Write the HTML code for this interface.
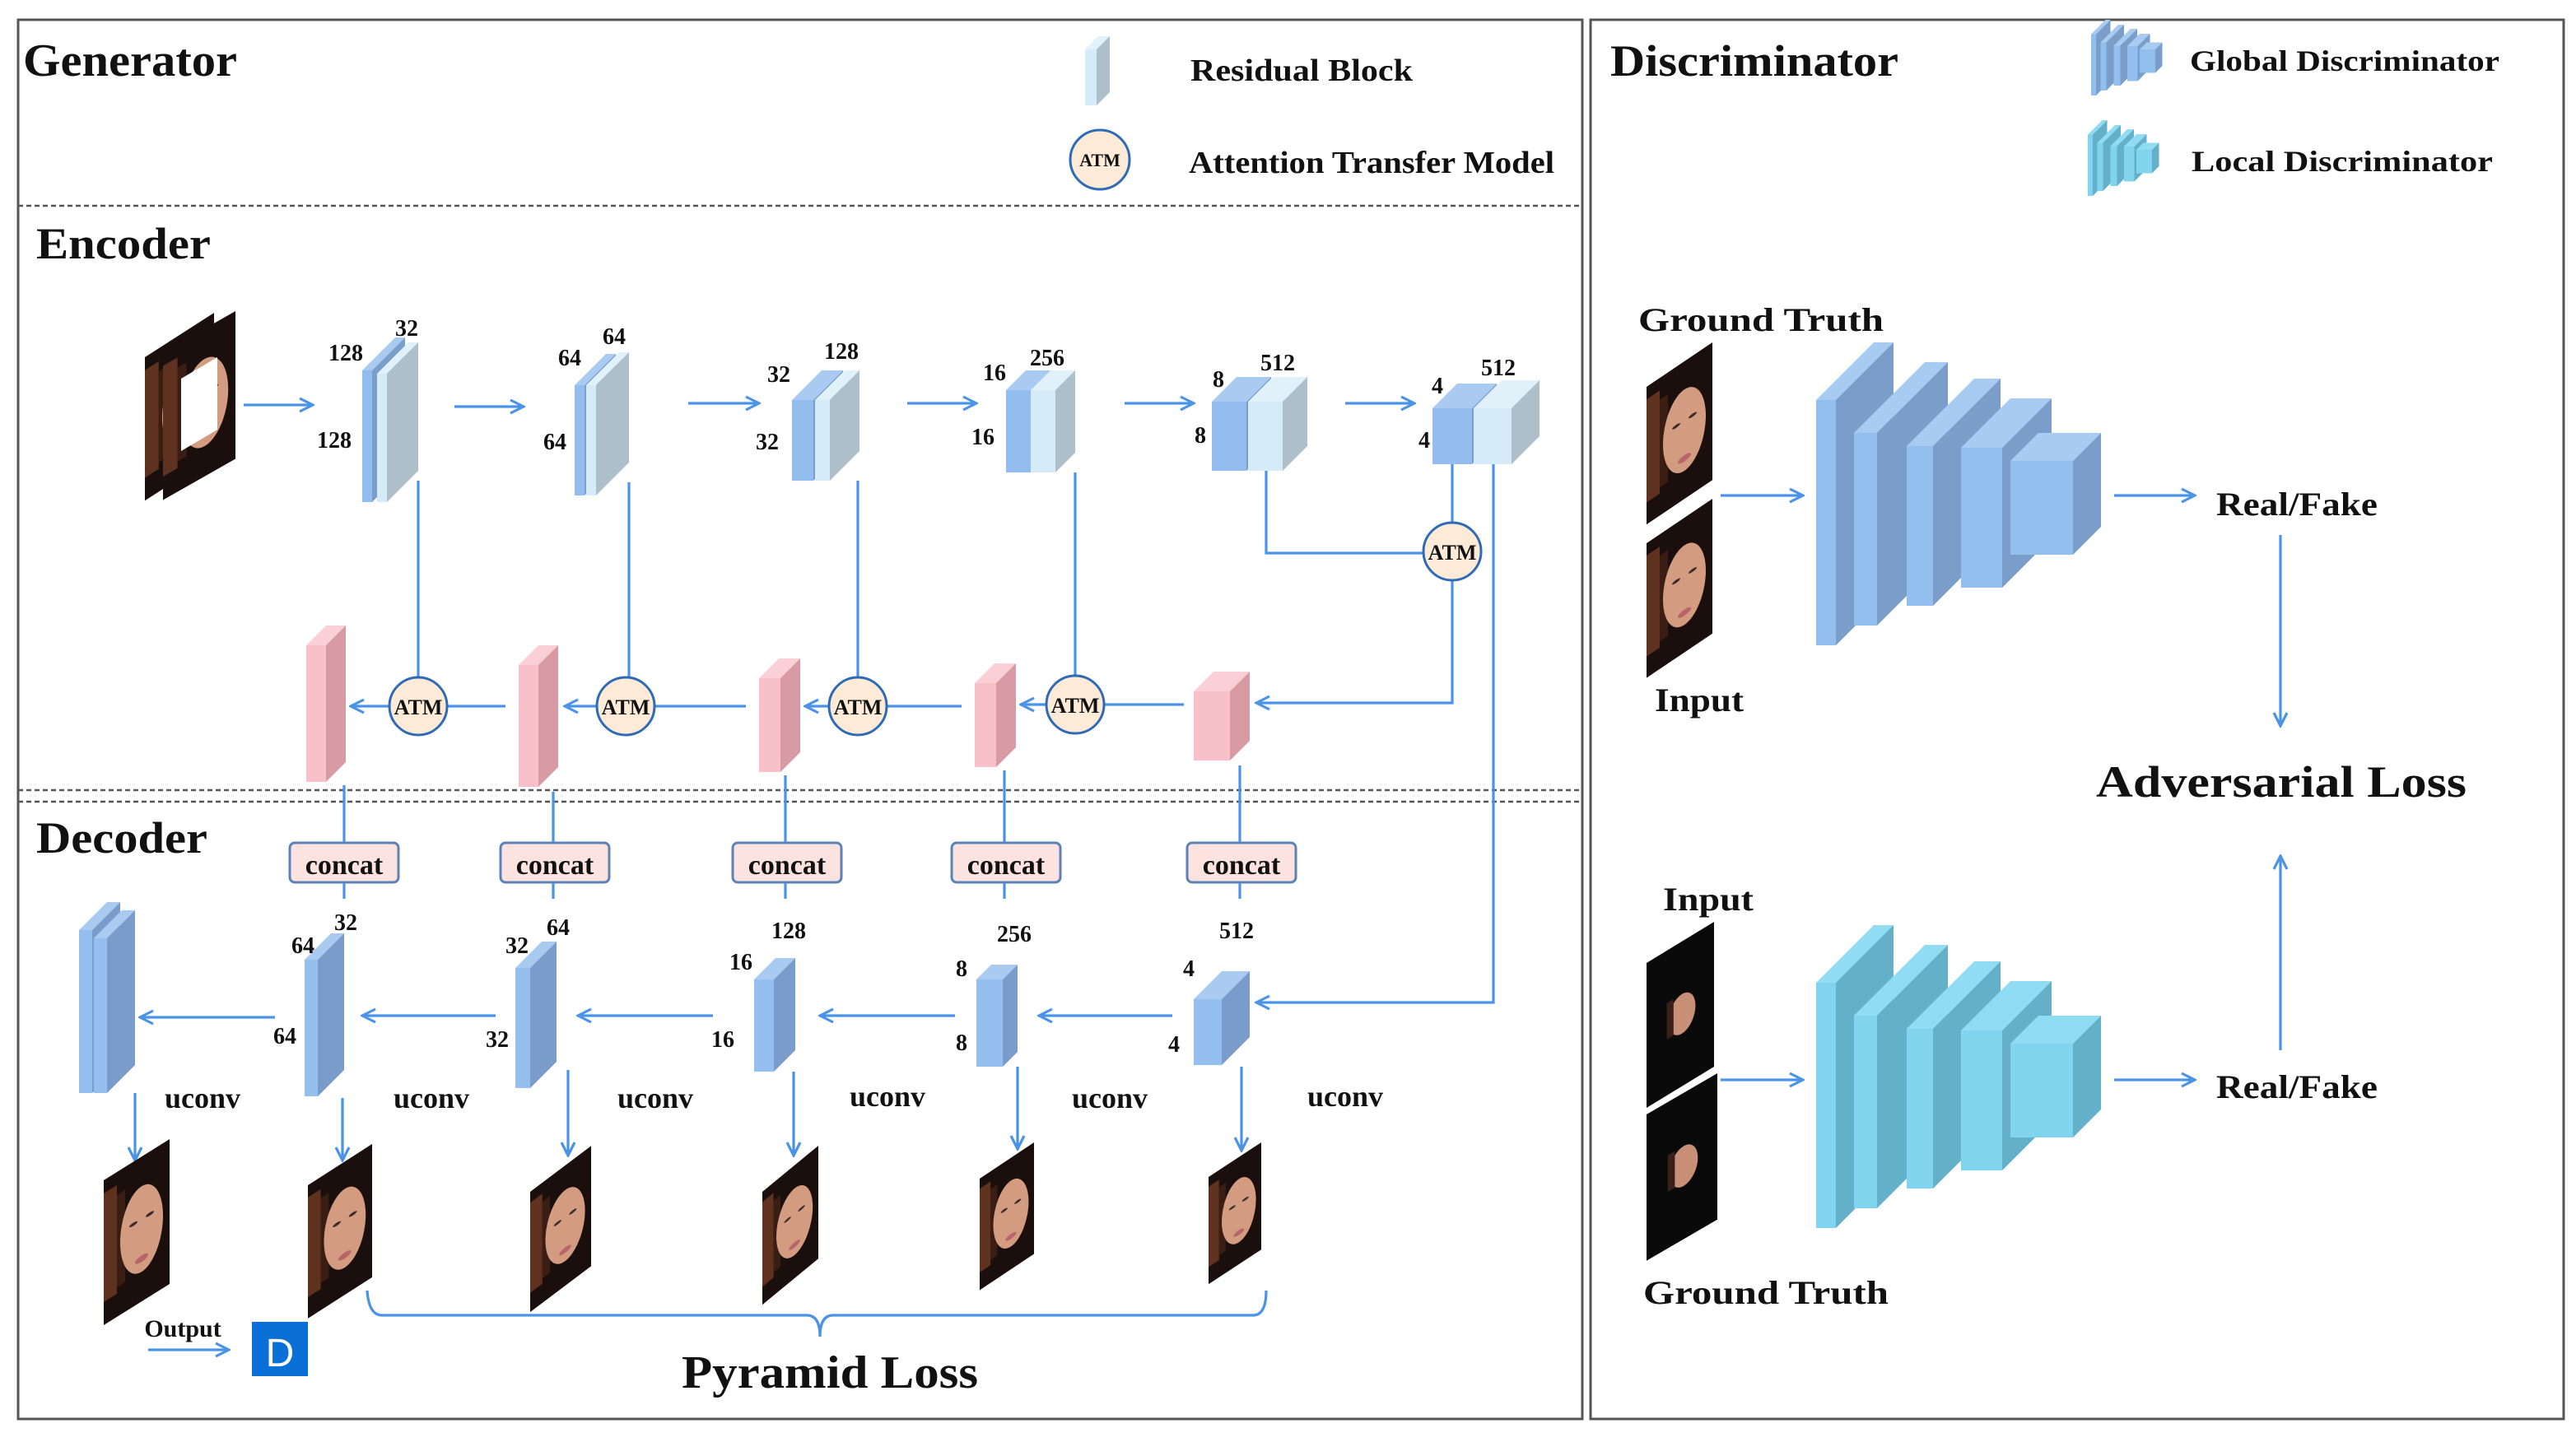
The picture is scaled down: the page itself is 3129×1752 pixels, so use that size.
<!DOCTYPE html>
<html><head><meta charset="utf-8"><style>
html,body{margin:0;padding:0;background:#fff;}
svg{display:block;}
text{font-family:"Liberation Serif",serif;font-weight:bold;fill:#111;}
</style></head><body>
<svg width="3129" height="1752" viewBox="0 0 1564.5 876" xmlns="http://www.w3.org/2000/svg">
<defs>
<marker id="a" viewBox="0 0 10 10" refX="9" refY="5" markerWidth="10" markerHeight="10" markerUnits="userSpaceOnUse" orient="auto"><path d="M1,1 L9,5 L1,9" fill="none" stroke="#4b93e6" stroke-width="1.6"/></marker>
<g id="face"><rect x="0" y="0" width="40" height="88" fill="#1a0f0c"/><rect x="0" y="8" width="8" height="66" fill="#5e321e"/><rect x="8" y="14" width="5" height="56" fill="#3a1e14"/><ellipse cx="23" cy="44" rx="13" ry="26" fill="#d39b80"/><ellipse cx="23" cy="62" rx="4" ry="2" fill="#b8646a"/><ellipse cx="18" cy="38" rx="2.5" ry="1" fill="#3a2a2a"/><ellipse cx="28" cy="38" rx="2.5" ry="1" fill="#3a2a2a"/></g>
<g id="lface"><rect x="0" y="0" width="40" height="88" fill="#0a0a0a"/><ellipse cx="21" cy="44" rx="8" ry="12" fill="#c89076"/><rect x="12" y="32" width="4" height="22" fill="#3a2018"/></g>
<g id="gstack">
<rect x="0" y="35" width="12" height="149" fill="#93bfee"/><polygon points="0,35 35,0 47,0 12,35" fill="#a8cbf2"/><polygon points="12,35 47,0 47,149 12,184" fill="#7a9dc9"/>
<rect x="23" y="55" width="14" height="117" fill="#93bfee"/><polygon points="23,55 66,12 80,12 37,55" fill="#a8cbf2"/><polygon points="37,55 80,12 80,129 37,172" fill="#7a9dc9"/>
<rect x="55" y="63" width="16" height="97" fill="#93bfee"/><polygon points="55,63 96,22 112,22 71,63" fill="#a8cbf2"/><polygon points="71,63 112,22 112,119 71,160" fill="#7a9dc9"/>
<rect x="88" y="64" width="25" height="85" fill="#93bfee"/><polygon points="88,64 118,34 143,34 113,64" fill="#a8cbf2"/><polygon points="113,64 143,34 143,119 113,149" fill="#7a9dc9"/>
<rect x="118" y="72" width="38" height="57" fill="#93bfee"/><polygon points="118,72 135,55 173,55 156,72" fill="#a8cbf2"/><polygon points="156,72 173,55 173,112 156,129" fill="#7a9dc9"/>
</g>
<g id="lstack">
<rect x="0" y="35" width="12" height="149" fill="#80d4ee"/><polygon points="0,35 35,0 47,0 12,35" fill="#90ddf3"/><polygon points="12,35 47,0 47,149 12,184" fill="#63b0c8"/>
<rect x="23" y="55" width="14" height="117" fill="#80d4ee"/><polygon points="23,55 66,12 80,12 37,55" fill="#90ddf3"/><polygon points="37,55 80,12 80,129 37,172" fill="#63b0c8"/>
<rect x="55" y="63" width="16" height="97" fill="#80d4ee"/><polygon points="55,63 96,22 112,22 71,63" fill="#90ddf3"/><polygon points="71,63 112,22 112,119 71,160" fill="#63b0c8"/>
<rect x="88" y="64" width="25" height="85" fill="#80d4ee"/><polygon points="88,64 118,34 143,34 113,64" fill="#90ddf3"/><polygon points="113,64 143,34 143,119 113,149" fill="#63b0c8"/>
<rect x="118" y="72" width="38" height="57" fill="#80d4ee"/><polygon points="118,72 135,55 173,55 156,72" fill="#90ddf3"/><polygon points="156,72 173,55 173,112 156,129" fill="#63b0c8"/>
</g>
</defs>

<rect x="11" y="12" width="950" height="850" fill="none" stroke="#555" stroke-width="1.5"/>
<rect x="966" y="12" width="591" height="850" fill="none" stroke="#555" stroke-width="1.5"/>
<g stroke="#555" stroke-width="1.2" stroke-dasharray="3,2">
<line x1="11" y1="125" x2="961" y2="125"/><line x1="11" y1="480" x2="961" y2="480"/><line x1="11" y1="487" x2="961" y2="487"/>
</g>

<text x="14" y="46" font-size="28" textLength="130" lengthAdjust="spacingAndGlyphs">Generator</text>
<rect x="659" y="30" width="7" height="34" fill="#d5ebf8"/><polygon points="659,30 667,22 674,22 666,30" fill="#e2f2fb"/><polygon points="666,30 674,22 674,56 666,64" fill="#adbfc8"/>
<text x="723" y="49" font-size="19" textLength="135" lengthAdjust="spacingAndGlyphs">Residual  Block</text>
<circle cx="668" cy="97" r="18" fill="#fdebd7" stroke="#2f6bb5" stroke-width="1.5"/>
<text x="668" y="101" font-size="11" text-anchor="middle">ATM</text>
<text x="722" y="105" font-size="19" textLength="222" lengthAdjust="spacingAndGlyphs">Attention  Transfer  Model</text>
<text x="22" y="157" font-size="27" textLength="106" lengthAdjust="spacingAndGlyphs">Encoder</text>
<text x="22" y="518" font-size="27" textLength="104" lengthAdjust="spacingAndGlyphs">Decoder</text>

<use href="#face" transform="translate(88,217) skewY(-32.7) scale(1.05,0.99)"/>
<use href="#face" transform="translate(99,214) skewY(-29.6) scale(1.1,1.02)"/>
<polygon points="110,230 132,217 132,261 110,274" fill="#fff"/>

<g>
<rect x="220" y="225" width="6" height="80" fill="#92bdee"/><polygon points="220,225 240,205 246,205 226,225" fill="#a9cbf2"/><polygon points="226,225 246,205 246,285 226,305" fill="#7b9fca"/>
<rect x="229" y="227" width="6" height="78" fill="#d5ebf8"/><polygon points="229,227 248,208 254,208 235,227" fill="#e0f1fa"/><polygon points="235,227 254,208 254,286 235,305" fill="#adbfc8"/>
<rect x="349" y="234" width="6" height="67" fill="#92bdee"/><polygon points="349,234 368,215 374,215 355,234" fill="#a9cbf2"/><polygon points="355,234 374,215 374,282 355,301" fill="#7b9fca"/>
<rect x="356" y="234" width="6" height="67" fill="#d5ebf8"/><polygon points="356,234 376,214 382,214 362,234" fill="#e0f1fa"/><polygon points="362,234 382,214 382,281 362,301" fill="#adbfc8"/>
<rect x="481" y="243" width="13" height="49" fill="#92bdee"/><polygon points="481,243 499,225 512,225 494,243" fill="#a9cbf2"/><polygon points="494,243 512,225 512,274 494,292" fill="#7b9fca"/>
<rect x="495" y="243" width="9" height="49" fill="#d5ebf8"/><polygon points="495,243 513,225 522,225 504,243" fill="#e0f1fa"/><polygon points="504,243 522,225 522,274 504,292" fill="#adbfc8"/>
<rect x="611" y="237" width="15" height="50" fill="#92bdee"/><polygon points="611,237 623,225 638,225 626,237" fill="#a9cbf2"/><polygon points="626,237 638,225 638,275 626,287" fill="#7b9fca"/>
<rect x="626" y="237" width="15" height="50" fill="#d5ebf8"/><polygon points="626,237 638,225 653,225 641,237" fill="#e0f1fa"/><polygon points="641,237 653,225 653,275 641,287" fill="#adbfc8"/>
<rect x="736" y="244" width="21" height="42" fill="#92bdee"/><polygon points="736,244 751,229 772,229 757,244" fill="#a9cbf2"/><polygon points="757,244 772,229 772,271 757,286" fill="#7b9fca"/>
<rect x="758" y="244" width="21" height="42" fill="#d5ebf8"/><polygon points="758,244 773,229 794,229 779,244" fill="#e0f1fa"/><polygon points="779,244 794,229 794,271 779,286" fill="#adbfc8"/>
<rect x="870" y="248" width="24" height="34" fill="#92bdee"/><polygon points="870,248 885,233 909,233 894,248" fill="#a9cbf2"/><polygon points="894,248 909,233 909,267 894,282" fill="#7b9fca"/>
<rect x="895" y="248" width="23" height="34" fill="#d5ebf8"/><polygon points="895,248 912,231 935,231 918,248" fill="#e0f1fa"/><polygon points="918,248 935,231 935,265 918,282" fill="#adbfc8"/>
</g>
<g font-size="14" text-anchor="middle">
<text x="247" y="204">32</text><text x="210" y="219">128</text><text x="203" y="272">128</text>
<text x="373" y="209">64</text><text x="346" y="222">64</text><text x="337" y="273">64</text>
<text x="511" y="218">128</text><text x="473" y="232">32</text><text x="466" y="273">32</text>
<text x="636" y="222">256</text><text x="604" y="231">16</text><text x="597" y="270">16</text>
<text x="776" y="225">512</text><text x="740" y="235">8</text><text x="729" y="269">8</text>
<text x="910" y="228">512</text><text x="873" y="239">4</text><text x="865" y="272">4</text>
</g>

<g stroke="#4b93e6" stroke-width="1.6" fill="none">
<line x1="148" y1="246" x2="190" y2="246" marker-end="url(#a)"/>
<line x1="276" y1="247" x2="318" y2="247" marker-end="url(#a)"/>
<line x1="418" y1="245" x2="461" y2="245" marker-end="url(#a)"/>
<line x1="551" y1="245" x2="593" y2="245" marker-end="url(#a)"/>
<line x1="683" y1="245" x2="725" y2="245" marker-end="url(#a)"/>
<line x1="817" y1="245" x2="859" y2="245" marker-end="url(#a)"/>
<line x1="254" y1="292" x2="254" y2="411"/>
<line x1="382" y1="293" x2="382" y2="411"/>
<line x1="521" y1="292" x2="521" y2="411"/>
<line x1="653" y1="287" x2="653" y2="410"/>
<polyline points="769,286 769,336 864,336"/>
<line x1="882" y1="282" x2="882" y2="318"/>
<polyline points="882,353 882,427 763,427" marker-end="url(#a)"/>
<polyline points="907,282 907,609 763,609" marker-end="url(#a)"/>
<line x1="307" y1="429" x2="213" y2="429" marker-end="url(#a)"/>
<line x1="453" y1="429" x2="343" y2="429" marker-end="url(#a)"/>
<line x1="584" y1="429" x2="489" y2="429" marker-end="url(#a)"/>
<line x1="719" y1="428" x2="620" y2="428" marker-end="url(#a)"/>
<line x1="209" y1="477" x2="209" y2="513"/><line x1="336" y1="481" x2="336" y2="513"/><line x1="477" y1="471" x2="477" y2="513"/><line x1="610" y1="468" x2="610" y2="513"/><line x1="753" y1="465" x2="753" y2="513"/>
<line x1="209" y1="535" x2="209" y2="546"/><line x1="336" y1="535" x2="336" y2="546"/><line x1="477" y1="535" x2="477" y2="546"/><line x1="610" y1="535" x2="610" y2="546"/><line x1="753" y1="535" x2="753" y2="546"/>
<line x1="712" y1="617" x2="631" y2="617" marker-end="url(#a)"/>
<line x1="580" y1="617" x2="498" y2="617" marker-end="url(#a)"/>
<line x1="433" y1="617" x2="351" y2="617" marker-end="url(#a)"/>
<line x1="301" y1="617" x2="220" y2="617" marker-end="url(#a)"/>
<line x1="167" y1="618" x2="85" y2="618" marker-end="url(#a)"/>
<line x1="82" y1="664" x2="82" y2="705" marker-end="url(#a)"/>
<line x1="208" y1="667" x2="208" y2="705" marker-end="url(#a)"/>
<line x1="345" y1="650" x2="345" y2="702" marker-end="url(#a)"/>
<line x1="482" y1="651" x2="482" y2="702" marker-end="url(#a)"/>
<line x1="618" y1="648" x2="618" y2="698" marker-end="url(#a)"/>
<line x1="754" y1="648" x2="754" y2="699" marker-end="url(#a)"/>
<line x1="90" y1="820" x2="139" y2="820" marker-end="url(#a)"/>
<path d="M223,784 Q224,799 232,799 L490,799 Q498,799 498,812 Q498,799 506,799 L761,799 Q769,799 769,784"/>
<line x1="1045" y1="301" x2="1095" y2="301" marker-end="url(#a)"/>
<line x1="1284" y1="301" x2="1333" y2="301" marker-end="url(#a)"/>
<line x1="1045" y1="656" x2="1095" y2="656" marker-end="url(#a)"/>
<line x1="1284" y1="656" x2="1333" y2="656" marker-end="url(#a)"/>
<line x1="1385" y1="325" x2="1385" y2="441" marker-end="url(#a)"/>
<line x1="1385" y1="638" x2="1385" y2="520" marker-end="url(#a)"/>
</g>

<g stroke="#2f6bb5" stroke-width="1.5" fill="#fdebd7">
<circle cx="882" cy="335" r="17.5"/><circle cx="254" cy="429" r="17.5"/><circle cx="380" cy="429" r="17.5"/><circle cx="521" cy="429" r="17.5"/><circle cx="653" cy="428" r="17.5"/>
</g>
<g font-size="13" text-anchor="middle">
<text x="882" y="340">ATM</text><text x="254" y="434">ATM</text><text x="380" y="434">ATM</text><text x="521" y="434">ATM</text><text x="653" y="433">ATM</text>
</g>

<g>
<rect x="186" y="392" width="12" height="83" fill="#f8c1c9"/><polygon points="186,392 198,380 210,380 198,392" fill="#fad0d6"/><polygon points="198,392 210,380 210,463 198,475" fill="#d89aa3"/>
<rect x="315" y="404" width="12" height="74" fill="#f8c1c9"/><polygon points="315,404 327,392 339,392 327,404" fill="#fad0d6"/><polygon points="327,404 339,392 339,466 327,478" fill="#d89aa3"/>
<rect x="461" y="412" width="13" height="57" fill="#f8c1c9"/><polygon points="461,412 473,400 486,400 474,412" fill="#fad0d6"/><polygon points="474,412 486,400 486,457 474,469" fill="#d89aa3"/>
<rect x="592" y="415" width="13" height="51" fill="#f8c1c9"/><polygon points="592,415 604,403 617,403 605,415" fill="#fad0d6"/><polygon points="605,415 617,403 617,454 605,466" fill="#d89aa3"/>
<rect x="725" y="420" width="22" height="42" fill="#f8c1c9"/><polygon points="725,420 737,408 759,408 747,420" fill="#fad0d6"/><polygon points="747,420 759,408 759,450 747,462" fill="#d89aa3"/>
</g>

<g fill="#fde3df" stroke="#5d82b8" stroke-width="1.5">
<rect x="176" y="512" width="66" height="24" rx="3"/><rect x="304" y="512" width="66" height="24" rx="3"/><rect x="445" y="512" width="66" height="24" rx="3"/><rect x="578" y="512" width="66" height="24" rx="3"/><rect x="721" y="512" width="66" height="24" rx="3"/>
</g>
<g font-size="17" text-anchor="middle">
<text x="209" y="531">concat</text><text x="337" y="531">concat</text><text x="478" y="531">concat</text><text x="611" y="531">concat</text><text x="754" y="531">concat</text>
</g>

<g>
<rect x="725" y="607" width="17" height="40" fill="#94bfee"/><polygon points="725,607 742,590 759,590 742,607" fill="#a9cbf2"/><polygon points="742,607 759,590 759,630 742,647" fill="#7a9ccb"/>
<rect x="593" y="595" width="16" height="53" fill="#94bfee"/><polygon points="593,595 602,586 618,586 609,595" fill="#a9cbf2"/><polygon points="609,595 618,586 618,639 609,648" fill="#7a9ccb"/>
<rect x="458" y="595" width="12" height="56" fill="#94bfee"/><polygon points="458,595 471,582 483,582 470,595" fill="#a9cbf2"/><polygon points="470,595 483,582 483,638 470,651" fill="#7a9ccb"/>
<rect x="313" y="588" width="9" height="73" fill="#94bfee"/><polygon points="313,588 329,572 338,572 322,588" fill="#a9cbf2"/><polygon points="322,588 338,572 338,645 322,661" fill="#7a9ccb"/>
<rect x="185" y="583" width="8" height="83" fill="#94bfee"/><polygon points="185,583 201,567 209,567 193,583" fill="#a9cbf2"/><polygon points="193,583 209,567 209,650 193,666" fill="#7a9ccb"/>
<rect x="48" y="565" width="8" height="99" fill="#94bfee"/><polygon points="48,565 65,548 73,548 56,565" fill="#a9cbf2"/><polygon points="56,565 73,548 73,647 56,664" fill="#7a9ccb"/>
<rect x="57" y="570" width="8" height="94" fill="#94bfee"/><polygon points="57,570 74,553 82,553 65,570" fill="#a9cbf2"/><polygon points="65,570 82,553 82,647 65,664" fill="#7a9ccb"/>
</g>
<g font-size="14" text-anchor="middle">
<text x="210" y="565">32</text><text x="184" y="579">64</text><text x="173" y="634">64</text>
<text x="339" y="568">64</text><text x="314" y="579">32</text><text x="302" y="636">32</text>
<text x="479" y="570">128</text><text x="450" y="589">16</text><text x="439" y="636">16</text>
<text x="616" y="572">256</text><text x="584" y="593">8</text><text x="584" y="638">8</text>
<text x="751" y="570">512</text><text x="722" y="593">4</text><text x="713" y="639">4</text>
</g>
<g font-size="18" text-anchor="middle">
<text x="123" y="673">uconv</text><text x="262" y="673">uconv</text><text x="398" y="673">uconv</text><text x="539" y="672">uconv</text><text x="674" y="673">uconv</text><text x="817" y="672">uconv</text>
</g>

<use href="#face" transform="translate(63,717) skewY(-32) scale(1,1)"/>
<use href="#face" transform="translate(187,720) skewY(-32.7) scale(0.975,0.92)"/>
<use href="#face" transform="translate(322,724) skewY(-37) scale(0.925,0.83)"/>
<use href="#face" transform="translate(463,724) skewY(-39.5) scale(0.85,0.78)"/>
<use href="#face" transform="translate(595,716) skewY(-33.7) scale(0.825,0.77)"/>
<use href="#face" transform="translate(734,715) skewY(-33.3) scale(0.8,0.74)"/>

<text x="111" y="812" font-size="15" text-anchor="middle">Output</text>
<rect x="153" y="803" width="34" height="33" fill="#0a6fd6"/>
<text x="170" y="830" font-size="24" text-anchor="middle" style="fill:#fff;font-family:'Liberation Sans',sans-serif;font-weight:normal">D</text>
<text x="504" y="843" font-size="28" text-anchor="middle" textLength="180" lengthAdjust="spacingAndGlyphs">Pyramid  Loss</text>

<text x="978" y="46" font-size="27" textLength="175" lengthAdjust="spacingAndGlyphs">Discriminator</text>
<use href="#gstack" transform="translate(1270,12) scale(0.25)"/>
<use href="#lstack" transform="translate(1268,73) scale(0.25)"/>
<text x="1330" y="43" font-size="18" textLength="188" lengthAdjust="spacingAndGlyphs">Global   Discriminator</text>
<text x="1331" y="104" font-size="18" textLength="183" lengthAdjust="spacingAndGlyphs">Local    Discriminator</text>

<text x="995" y="201" font-size="20" textLength="149" lengthAdjust="spacingAndGlyphs">Ground   Truth</text>
<use href="#face" transform="translate(1000,235) skewY(-34) scale(1,0.95)"/>
<use href="#face" transform="translate(1000,330) skewY(-34) scale(1,0.93)"/>
<text x="1005" y="432" font-size="20" textLength="54" lengthAdjust="spacingAndGlyphs">Input</text>
<use href="#gstack" transform="translate(1103,208)"/>
<text x="1346" y="313" font-size="20" textLength="98" lengthAdjust="spacingAndGlyphs">Real/Fake</text>
<text x="1273" y="484" font-size="27" textLength="225" lengthAdjust="spacingAndGlyphs">Adversarial   Loss</text>

<text x="1010" y="553" font-size="20" textLength="55" lengthAdjust="spacingAndGlyphs">Input</text>
<use href="#lface" transform="translate(1000,585) skewY(-31.4) scale(1.025,1)"/>
<use href="#lface" transform="translate(1000,677) skewY(-30.2) scale(1.075,1.01)"/>
<use href="#lstack" transform="translate(1103,562)"/>
<text x="1346" y="667" font-size="20" textLength="98" lengthAdjust="spacingAndGlyphs">Real/Fake</text>
<text x="998" y="792" font-size="20" textLength="149" lengthAdjust="spacingAndGlyphs">Ground   Truth</text>
</svg>
</body></html>
